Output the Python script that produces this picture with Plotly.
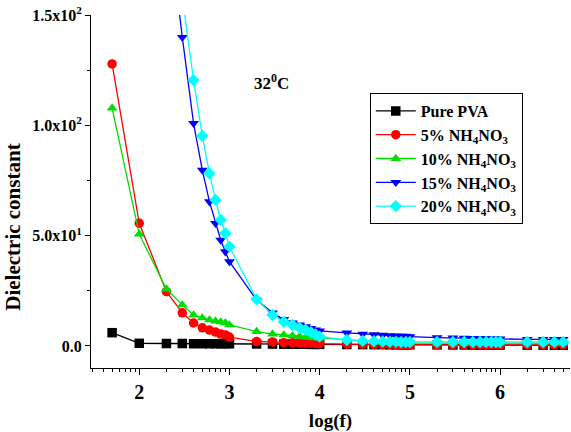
import plotly.graph_objects as go

# Frequencies (Hz); x axis shows log(f)
freq = [50, 100,
        200, 300, 400, 500, 600, 700, 800, 900, 1000,
        2000, 3000, 4000, 5000, 6000, 7000, 8000, 9000, 10000,
        20000, 30000, 40000, 50000, 60000, 70000, 80000, 90000, 100000,
        200000, 300000, 400000, 500000, 600000, 700000, 800000, 900000, 1000000,
        2000000, 3000000, 4000000, 5000000]

pure_pva = [6.0, 1.2,
            1.1, 1.1, 1.0, 1.0, 1.0, 1.0, 1.0, 1.0, 1.0,
            0.9, 0.85, 0.8, 0.8, 0.75, 0.75, 0.7, 0.7, 0.7,
            0.65, 0.6, 0.6, 0.6, 0.55, 0.55, 0.55, 0.5, 0.5,
            0.5, 0.45, 0.45, 0.4, 0.4, 0.4, 0.4, 0.4, 0.4,
            0.35, 0.35, 0.3, 0.3]

nh5 = [127.8, 55.6,
       24.6, 15.0, 10.4, 8.2, 7.2, 6.3, 5.4, 5.0, 4.0,
       2.0, 1.8, 1.5, 1.4, 1.3, 1.2, 1.2, 1.1, 1.0,
       0.8, 0.7, 0.6, 0.6, 0.55, 0.5, 0.5, 0.5, 0.5,
       0.5, 0.5, 0.5, 0.5, 0.5, 0.5, 0.5, 0.5, 0.5,
       0.5, 0.5, 0.5, 0.5]

nh10 = [107.8, 50.7,
        25.8, 18.6, 14.0, 12.7, 11.8, 11.3, 10.9, 10.4, 9.5,
        6.5, 5.4, 5.0, 4.6, 4.3, 4.0, 3.8, 3.7, 3.6,
        2.5, 2.0, 1.8, 1.6, 1.5, 1.4, 1.4, 1.3, 1.3,
        1.3, 1.3, 1.3, 1.3, 1.3, 1.3, 1.3, 1.3, 1.3,
        1.3, 1.3, 1.3, 1.3]

nh15 = [None, None,
        200.0, 139.9, 100.9, 79.7, 65.4, 55.6, 48.0, 42.7, 38.2,
        20.8, 15.0, 12.0, 10.5, 9.5, 8.7, 8.0, 7.3, 6.8,
        5.9, 5.4, 5.1, 4.9, 4.7, 4.6, 4.5, 4.4, 4.2,
        3.8, 3.6, 3.5, 3.4, 3.3, 3.3, 3.2, 3.2, 3.2,
        3.0, 3.0, 3.0, 3.0]

nh20 = [None, None,
        None, 158.0, 120.5, 95.2, 78.2, 66.2, 57.1, 51.1, 45.0,
        21.1, 14.0, 11.0, 9.5, 8.2, 7.2, 6.2, 5.2, 4.2,
        2.7, 2.3, 2.1, 2.0, 1.9, 1.9, 1.8, 1.8, 1.8,
        1.8, 1.8, 1.8, 1.8, 1.8, 1.8, 1.8, 1.8, 1.8,
        1.8, 1.8, 1.8, 1.8]

series_names = ["Pure PVA",
                "5% NH<sub>4</sub>NO<sub>3</sub>",
                "10% NH<sub>4</sub>NO<sub>3</sub>",
                "15% NH<sub>4</sub>NO<sub>3</sub>",
                "20% NH<sub>4</sub>NO<sub>3</sub>"]

x_tick_vals = [1e2, 1e3, 1e4, 1e5, 1e6]
x_tick_text = ["2", "3", "4", "5", "6"]
y_tick_vals = [0, 50, 100, 150]
y_tick_text = ["0.0", "5.0x10<sup>1</sup>", "1.0x10<sup>2</sup>", "1.5x10<sup>2</sup>"]

x_minor = [d * 10 ** k for k in range(1, 7) for d in range(2, 10)]
y_minor = [25, 75, 125]

colors = ["#000000", "#FF0000", "#00DD00", "#0000FF", "#00FFFF"]
symbols = ["square", "circle", "triangle-up", "triangle-down", "diamond"]
data = [pure_pva, nh5, nh10, nh15, nh20]

SERIF = "Liberation Serif"

fig = go.Figure()
for name, ys, c, s in zip(series_names, data, colors, symbols):
    fig.add_trace(go.Scatter(
        x=freq, y=ys, name=name, mode="lines+markers",
        line=dict(color=c, width=1.3),
        marker=dict(color=c, symbol=s, size=9.5, line=dict(width=0)),
        connectgaps=False, cliponaxis=True,
    ))

fig.update_layout(
    width=571, height=432,
    margin=dict(l=91, r=1, t=15, b=64),
    paper_bgcolor="white", plot_bgcolor="white",
    font=dict(family=SERIF, color="black"),
    showlegend=True,
    legend=dict(
        x=0.582, y=0.779, xanchor="left", yanchor="top",
        bordercolor="black", borderwidth=1, bgcolor="white",
        font=dict(family=SERIF, size=16, weight="bold", color="black"),
        tracegroupgap=0, itemwidth=40,
    ),
    xaxis=dict(
        type="log", range=[1.465, 6.775],
        tickmode="array", tickvals=x_tick_vals, ticktext=x_tick_text,
        ticks="outside", ticklen=6, tickwidth=1, tickcolor="black",
        showline=True, linecolor="black", linewidth=1,
        showgrid=False, zeroline=False, mirror=False,
        tickfont=dict(family=SERIF, size=20, weight="bold"),
        minor=dict(tickmode="array", tickvals=x_minor, ticks="outside",
                   ticklen=3, tickwidth=1, tickcolor="black", showgrid=False),
        title=dict(text="log(f)", font=dict(family=SERIF, size=19, weight="bold"),
                   standoff=15),
    ),
    yaxis=dict(
        range=[-10, 150],
        tickmode="array", tickvals=y_tick_vals, ticktext=y_tick_text,
        ticks="outside", ticklen=5, tickwidth=1, tickcolor="black",
        showline=True, linecolor="black", linewidth=1,
        showgrid=False, zeroline=False, mirror=False,
        tickfont=dict(family=SERIF, size=16, weight="bold"),
        minor=dict(tickmode="array", tickvals=y_minor, ticks="outside",
                   ticklen=3, tickwidth=1, tickcolor="black", showgrid=False),
    ),
    annotations=[
        dict(text="32<sup>0</sup>C", xref="paper", yref="paper",
             x=0.376, y=0.81, xanchor="center", yanchor="middle",
             showarrow=False,
             font=dict(family=SERIF, size=17, weight="bold", color="black")),
        dict(text="Dielectric constant", xref="paper", yref="paper",
             x=-0.163, y=0.40, xanchor="center", yanchor="middle",
             textangle=-90, showarrow=False,
             font=dict(family=SERIF, size=21, weight="bold", color="black")),
    ],
)

fig.write_html("out.html")
